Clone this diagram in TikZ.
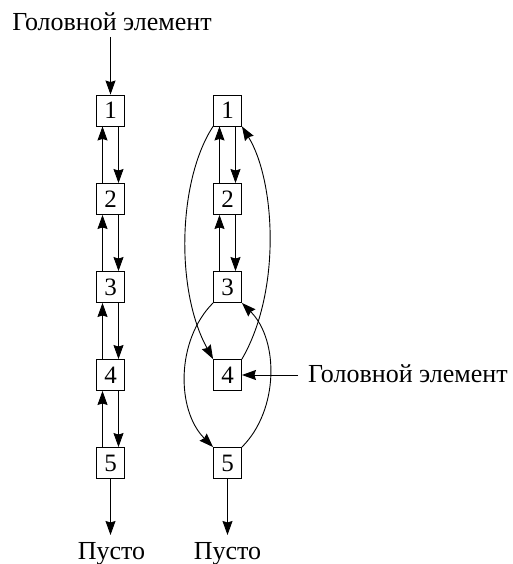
\documentclass[tikz,border=0pt]{standalone}
\usepackage{fontspec}
\setmainfont{Liberation Serif}
\usetikzlibrary{arrows.meta}
\begin{document}
\begin{tikzpicture}[x=1pt,y=-1pt,
  box/.style={draw,line width=0.9pt,minimum width=28pt,minimum height=31pt,inner sep=0pt,font=\fontsize{25}{28}\selectfont},
  lbl/.style={inner sep=0pt,font=\fontsize{26}{29}\selectfont},
  arr/.style={line width=0.9pt,-{Stealth[length=14pt,width=10pt,inset=1.5pt]}}]
\useasboundingbox (0,0) rectangle (513,564);
% boxes
\foreach \i/\y in {1/110.5,2/199,3/287,4/375,5/463}{
  \node[box] (L\i) at (110.5,\y) {\i};
  \node[box] (R\i) at (227.5,\y) {\i};
}
\foreach \a/\b in {1/2,2/3,3/4,4/5}{
  \draw[arr] ([xshift=8pt]L\a.south) -- ([xshift=8pt]L\b.north);
  \draw[arr] ([xshift=-8pt]L\b.north) -- ([xshift=-8pt]L\a.south);
}
\foreach \a/\b in {1/2,2/3}{
  \draw[arr] ([xshift=8pt]R\a.south) -- ([xshift=8pt]R\b.north);
  \draw[arr] ([xshift=-8pt]R\b.north) -- ([xshift=-8pt]R\a.south);
}
% labels
\node[lbl,anchor=base] (headL) at (112,31) {Головной элемент};
\node[lbl,anchor=base west] (headR) at (308,382) {Головной элемент};
\node[lbl,anchor=base] (emptyL) at (111.5,559) {Пусто};
\node[lbl,anchor=base] (emptyR) at (227.5,559) {Пусто};
\coordinate (hs) at (110.5,37);
\coordinate (hr) at (298,375);
\coordinate (eL) at (110.5,535);
\coordinate (eR) at (227.5,535);
\draw[arr] (hs) -- (L1.north);
\draw[arr] (hr) -- (R4.east);
\draw[arr] (L5.south) -- (eL);
\draw[arr] (R5.south) -- (eR);
% curved links
\draw[arr] (R1.south west) .. controls (178,180) and (175,290) .. (R4.north west);
\draw[arr] (R4.north east) .. controls (282,290) and (275,180) .. (R1.south east);
\draw[arr] (R3.south west) .. controls (176,340) and (176,410) .. (R5.north west);
\draw[arr] (R5.north east) .. controls (279,410) and (279,340) .. (R3.south east);
\end{tikzpicture}
\end{document}
